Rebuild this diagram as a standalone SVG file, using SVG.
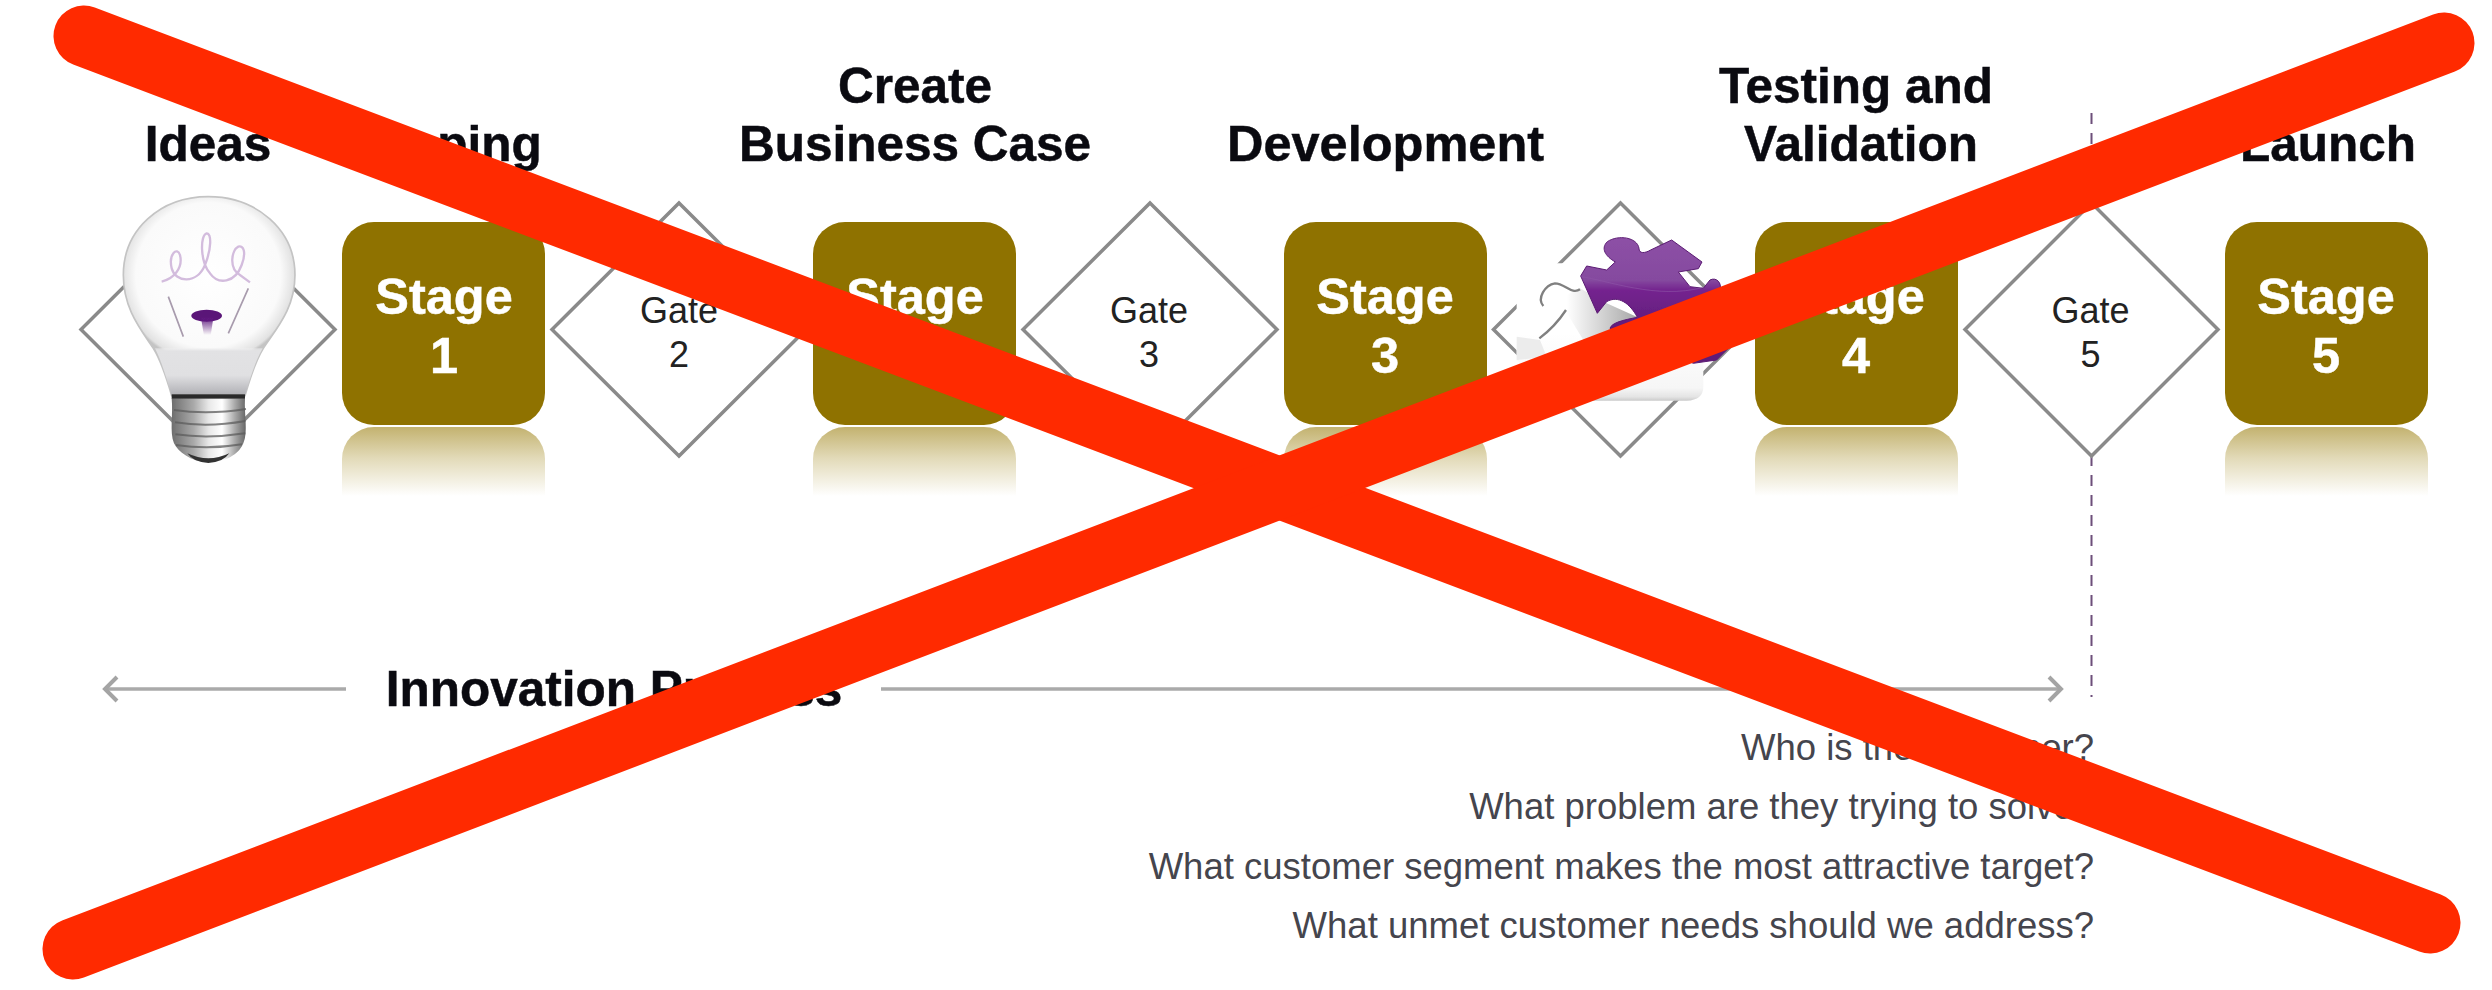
<svg xmlns="http://www.w3.org/2000/svg" width="2492" height="990" viewBox="0 0 2492 990">
<style>
text{font-family:"Liberation Sans",Arial,sans-serif}
.h{font-size:49.500px;font-weight:700;fill:#0a0a10;text-anchor:middle;stroke:#0a0a10;stroke-width:.5}
.s{font-size:50.500px;font-weight:700;fill:#fff;text-anchor:middle;stroke:#fff;stroke-width:.5}
.g{font-size:36px;fill:#222;text-anchor:middle}
.q{font-size:36.500px;fill:#45454d;text-anchor:end}
.box{fill:#8f7200}
.ref{fill:url(#fade)}
.dia{fill:#fff;stroke:#8a8a8a;stroke-width:3.500}
.ax{fill:none;stroke:#aaa;stroke-width:3.500}
.x{fill:none;stroke:#ff2a00;stroke-width:61;stroke-linecap:round}
</style>
<defs>
<linearGradient id="fade" gradientUnits="userSpaceOnUse" x1="0" y1="427" x2="0" y2="496"><stop offset="0" stop-color="#c3b26f"/><stop offset=".45" stop-color="#e2dab8"/><stop offset="1" stop-color="#fff"/></linearGradient>
<radialGradient id="glass" gradientUnits="userSpaceOnUse" cx="325" cy="270" r="265"><stop offset="0" stop-color="#fff"/><stop offset=".82" stop-color="#fafafa"/><stop offset=".97" stop-color="#e2e2e2"/><stop offset="1" stop-color="#c4c4c4"/></radialGradient>
<linearGradient id="neck" gradientUnits="userSpaceOnUse" x1="0" y1="480" x2="0" y2="632"><stop offset="0" stop-color="#fff" stop-opacity="0"/><stop offset=".12" stop-color="#e2e2e4"/><stop offset=".6" stop-color="#e0e0e2"/><stop offset="1" stop-color="#aeaeb3"/></linearGradient>
<linearGradient id="metal" gradientUnits="objectBoundingBox" x1="0" y1="0" x2="1" y2="0"><stop offset="0" stop-color="#6e6e6e"/><stop offset=".3" stop-color="#aaa"/><stop offset=".5" stop-color="#e8e8e8"/><stop offset=".68" stop-color="#fff"/><stop offset=".85" stop-color="#aaa"/><stop offset="1" stop-color="#666"/></linearGradient>
<linearGradient id="stem" gradientUnits="userSpaceOnUse" x1="0" y1="395" x2="0" y2="450"><stop offset="0" stop-color="#5e1a7e"/><stop offset="1" stop-color="#5e1a7e" stop-opacity="0"/></linearGradient>
<linearGradient id="tile" gradientUnits="userSpaceOnUse" x1="0" y1="400" x2="0" y2="605"><stop offset="0" stop-color="#fff"/><stop offset=".8" stop-color="#f6f6f6"/><stop offset=".93" stop-color="#e4e4e4"/><stop offset="1" stop-color="#c4c4c4"/></linearGradient>
<linearGradient id="pz" gradientUnits="userSpaceOnUse" x1="0" y1="110" x2="0" y2="400"><stop offset="0" stop-color="#8d50a6"/><stop offset=".45" stop-color="#854a9f"/><stop offset=".55" stop-color="#74248f"/><stop offset="1" stop-color="#5f1a78"/></linearGradient>
<linearGradient id="ps" gradientUnits="userSpaceOnUse" x1="230" y1="0" x2="440" y2="0"><stop offset="0" stop-color="#fff"/><stop offset="1" stop-color="#a8a8a8"/></linearGradient>
<filter id="soft" x="-10%" y="-10%" width="120%" height="120%"><feGaussianBlur stdDeviation="1.800"/></filter>
<marker id="arr" viewBox="0 0 20 28" refX="17" refY="14" markerWidth="20" markerHeight="28" markerUnits="userSpaceOnUse" orient="auto-start-reverse"><path d="M5 2L17 14L5 26" fill="none" stroke="#a4a4a4" stroke-width="4"/></marker>
</defs>
<rect width="2492" height="990" fill="#fff"/>

<g id="connectors">
<path class="ax" d="M105 689H346" marker-start="url(#arr)"/>
<path class="ax" d="M881 689H2061" marker-end="url(#arr)"/>
<path d="M2091.500 113V203M2091.500 455V697" fill="none" stroke="#6d4f7a" stroke-width="2" stroke-dasharray="11 9"/>
</g>

<g id="gate1"><path class="dia" d="M208 203L335 329.500L208 456L81 329.500Z"/></g>
<g id="bulb" transform="translate(100 185) scale(.3333)">
<g filter="url(#soft)">
<path d="M325 35C470 35 585 135 585 270C585 370 530 430 490 490C465 530 450 580 435 632H215C200 580 185 530 160 490C120 430 70 370 70 270C70 135 180 35 325 35Z" fill="url(#glass)" stroke="#c4c4c4" stroke-width="5"/>
<path d="M165 490H488C465 530 450 580 435 632H215C200 580 185 530 165 490Z" fill="url(#neck)"/>
<path d="M185 290C220 282 250 250 240 210C232 185 205 205 215 250C225 292 290 300 315 240C335 190 335 145 320 145C300 150 300 230 330 265C355 300 405 295 425 240C440 200 430 180 415 185C395 195 385 250 420 270L450 292" fill="none" stroke="#d3bcdd" stroke-width="7"/>
<path d="M205 335L250 455M445 310L385 445" fill="none" stroke="#a89bad" stroke-width="5"/>
<ellipse cx="320" cy="392" rx="46" ry="18" fill="#5a1478"/>
<path d="M303 398H340L332 452H312Z" fill="url(#stem)"/>
<path d="M215 640H435C432 690 445 740 430 775C420 800 390 830 325 832C270 830 235 800 222 775C208 740 220 690 215 640Z" fill="url(#metal)"/>
<rect x="215" y="628" width="220" height="13" fill="#2b2b2b"/>
<path d="M222 675Q325 690 438 672M225 712Q325 728 436 708M226 748Q325 762 436 745M228 780Q325 795 426 778" fill="none" stroke="#5c5c5c" stroke-width="6" opacity=".75"/>
<path d="M262 805Q325 835 388 805Q370 832 325 834Q280 832 262 805Z" fill="#333"/>
</g>
</g>

<g id="stage1"><rect class="box" x="342" y="222" width="203" height="203" rx="32"/><path class="ref" d="M342 498V459A32 32 0 0 1 374 427H513A32 32 0 0 1 545 459V498Z"/><text class="s" x="444" y="314">Stage</text><text class="s" x="444" y="373">1</text></g>
<g id="gate2"><path class="dia" d="M679 203L806 329.500L679 456L552 329.500Z"/><text class="g" x="679" y="323">Gate</text><text class="g" x="679" y="367">2</text></g>
<g id="stage2"><rect class="box" x="813" y="222" width="203" height="203" rx="32"/><path class="ref" d="M813 498V459A32 32 0 0 1 845 427H984A32 32 0 0 1 1016 459V498Z"/><text class="s" x="915" y="314">Stage</text><text class="s" x="915" y="373">2</text></g>
<g id="gate3"><path class="dia" d="M1150 203L1277 329.500L1150 456L1023 329.500Z"/><text class="g" x="1149" y="323">Gate</text><text class="g" x="1149" y="367">3</text></g>
<g id="stage3"><rect class="box" x="1284" y="222" width="203" height="203" rx="32"/><path class="ref" d="M1284 498V459A32 32 0 0 1 1316 427H1455A32 32 0 0 1 1487 459V498Z"/><text class="s" x="1385" y="314">Stage</text><text class="s" x="1385" y="373">3</text></g>
<g id="gate4"><path class="dia" d="M1620.500 203L1747.500 329.500L1620.500 456L1493.500 329.500Z"/></g>
<g id="stage4"><rect class="box" x="1755" y="222" width="203" height="203" rx="32"/><path class="ref" d="M1755 498V459A32 32 0 0 1 1787 427H1926A32 32 0 0 1 1958 459V498Z"/><text class="s" x="1856" y="314">Stage</text><text class="s" x="1856" y="373">4</text></g>
<g id="puzzle" transform="translate(1490 200) scale(.3333)">
<g filter="url(#soft)">
<path d="M80 190H520L640 300V560Q640 600 590 602H240L80 480Z" fill="url(#tile)"/>
<path d="M80 410L150 420L170 470L80 480Z" fill="#ececec"/>
<path d="M230 285L270 265L350 310L440 350L420 480L280 420L225 330Z" fill="url(#ps)"/>
<path d="M272 228L290 198L350 210L376 186C345 168 332 145 352 125C385 103 442 112 447 145C447 162 465 160 482 150L545 120L636 186L625 206L565 216L600 260L640 265L660 240C680 230 696 250 690 268L720 440L680 480L610 490L360 385C365 368 400 360 442 352C420 310 385 285 350 305L322 340Z" fill="url(#pz)" stroke="#5a1a72" stroke-width="3"/>
<path d="M272 230C350 240 500 300 640 262" fill="none" stroke="#8f55a8" stroke-width="3" opacity=".6"/>
<path d="M270 268C245 285 225 250 195 250C165 255 140 295 160 318M228 330C205 365 175 395 148 415" fill="none" stroke="#808080" stroke-width="7"/>
</g>
</g>
<g id="gate5"><path class="dia" d="M2091.500 203L2218 329.500L2091.500 456L1965 329.500Z"/><text class="g" x="2090.500" y="323">Gate</text><text class="g" x="2090.500" y="367">5</text></g>
<g id="stage5"><rect class="box" x="2225" y="222" width="203" height="203" rx="32"/><path class="ref" d="M2225 498V459A32 32 0 0 1 2257 427H2396A32 32 0 0 1 2428 459V498Z"/><text class="s" x="2326" y="314">Stage</text><text class="s" x="2326" y="373">5</text></g>

<g id="headings">
<text class="h" x="208" y="161">Ideas</text>
<text class="h" x="444" y="161">Scoping</text>
<text class="h" x="915" y="103">Create</text>
<text class="h" x="915" y="161">Business Case</text>
<text class="h" x="1385.500" y="161" style="font-size:50.500px">Development</text>
<text class="h" x="1856" y="103">Testing and</text>
<text class="h" x="1861" y="161">Validation</text>
<text class="h" x="2328" y="161">Launch</text>
<text class="h" x="614" y="706">Innovation Process</text>
</g>
<g id="questions">
<text class="q" x="2094" y="760">Who is the customer?</text>
<text class="q" x="2094" y="819">What problem are they trying to solve?</text>
<text class="q" x="2094" y="879">What customer segment makes the most attractive target?</text>
<text class="q" x="2094" y="938">What unmet customer needs should we address?</text>
</g>
<g id="cross">
<path class="x" d="M84 36L2430 923"/>
<path class="x" d="M2444 43L73 949"/>
</g>
</svg>
